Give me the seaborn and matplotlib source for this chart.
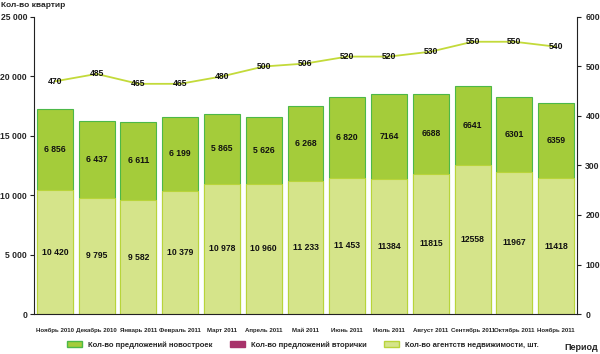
import matplotlib
matplotlib.use("Agg")
import matplotlib.pyplot as plt
import seaborn as sns
import pandas as pd
import numpy as np
from matplotlib.patches import Patch

periods = ["Ноябрь 2010", "Декабрь 2010", "Январь 2011", "Февраль 2011", "Март 2011",
           "Апрель 2011", "Май 2011", "Июнь 2011", "Июль 2011", "Август 2011",
           "Сентябрь 2011", "Октябрь 2011", "Ноябрь 2011"]
bottom_vals = [10420, 9795, 9582, 10379, 10978, 10960, 11233, 11453, 11384, 11815, 12558, 11967, 11418]
top_vals = [6856, 6437, 6611, 6199, 5865, 5626, 6268, 6820, 7164, 6688, 6641, 6301, 6359]
bottom_labels = ["10 420", "9 795", "9 582", "10 379", "10 978", "10 960", "11 233", "11 453",
                 "11384", "11815", "12558", "11967", "11418"]
top_labels = ["6 856", "6 437", "6 611", "6 199", "5 865", "5 626", "6 268", "6 820",
              "7164", "6688", "6641", "6301", "6359"]
agencies = [470, 485, 465, 465, 480, 500, 506, 520, 520, 530, 550, 550, 540]
left_ticks = [0, 5000, 10000, 15000, 20000, 25000]
left_tick_labels = ["0", "5 000", "10 000", "15 000", "20 000", "25 000"]
right_ticks = [0, 100, 200, 300, 400, 500, 600]

sns.set_style("white")
plt.rcParams['font.family'] = ['Liberation Sans', 'DejaVu Sans']

df = pd.DataFrame({"period": periods, "bottom": bottom_vals, "top": top_vals})
df["total"] = df["bottom"] + df["top"]

fig = plt.figure(figsize=(6, 3.54), dpi=100)
ax = fig.add_axes([34/600, 40/354, 543/600, 297/354])

c_top = "#a4cc3a"
c_top_edge = "#4cb848"
c_bot = "#d5e48a"
c_bot_edge = "#b8d43a"
c_line = "#c3da3a"

sns.barplot(data=df, x="period", y="total", color=c_top, width=0.86, ax=ax,
            edgecolor=c_top_edge, linewidth=0.8, saturation=1)
sns.barplot(data=df, x="period", y="bottom", color=c_bot, width=0.86, ax=ax,
            edgecolor=c_bot_edge, linewidth=0.8, saturation=1)

vfs = 6.2
for i in range(len(periods)):
    ax.text(i, bottom_vals[i] + top_vals[i] / 2, top_labels[i], ha="center", va="center",
            fontsize=vfs, fontweight="bold", color="#111111")
    ax.text(i, bottom_vals[i] / 2, bottom_labels[i], ha="center", va="center",
            fontsize=vfs, fontweight="bold", color="#111111")

ax.set_xlim(-0.5, 12.5)
ax.set_ylim(0, 25000)
ax.set_yticks(left_ticks)
ax.set_yticklabels(left_tick_labels, fontsize=6.2, fontweight="bold")
ax.set_xticks(range(len(periods)))
ax.set_xticklabels(periods, fontsize=4.4, fontweight="bold")
ax.set_xlabel("")
ax.set_ylabel("")
for s in ["top", "right"]:
    ax.spines[s].set_visible(False)
ax.spines["left"].set_color("#222222")
ax.spines["bottom"].set_color("#222222")
ax.tick_params(axis="both", direction="out", length=3, width=0.8, color="#222222", pad=2)
ax.tick_params(axis="x", pad=7)

ax2 = ax.twinx()
sns.lineplot(x=list(range(len(periods))), y=agencies, ax=ax2, color=c_line, linewidth=1.3, sort=False)
for i, v in enumerate(agencies):
    ax2.text(i, v, str(v), ha="center", va="center", fontsize=vfs, fontweight="bold",
             color="#111111")
ax2.set_ylim(0, 600)
ax2.set_xlim(-0.5, 12.5)
ax2.set_yticks(right_ticks)
ax2.set_yticklabels([str(t) for t in right_ticks], fontsize=6.2, fontweight="bold")
for s in ["top", "left", "bottom"]:
    ax2.spines[s].set_visible(False)
ax2.spines["right"].set_color("#222222")
ax2.tick_params(axis="y", direction="out", length=3, width=0.8, color="#222222", pad=3)

fig.text(1/600, 1 - 2/354, "Кол-во квартир", ha="left", va="top", fontsize=6, fontweight="bold")
fig.text(598/600, 1 - 348/354, "Период", ha="right", va="center", fontsize=6.5, fontweight="bold")

handles = [Patch(facecolor=c_top, edgecolor=c_top_edge),
           Patch(facecolor="#a8336b", edgecolor="#a8336b"),
           Patch(facecolor=c_bot, edgecolor=c_bot_edge)]
labels = ["Кол-во предложений новостроек", "Кол-во предложений вторички",
          "Кол-во агентств недвижимости, шт."]
fig.legend(handles, labels, loc="center", bbox_to_anchor=(303/600, 1 - 345/354), ncol=3,
           frameon=False, prop={"weight": "bold", "size": 5.5},
           handlelength=2.0, handleheight=0.7, columnspacing=2.2, handletextpad=0.8)

fig.savefig("out.png", dpi=100)
